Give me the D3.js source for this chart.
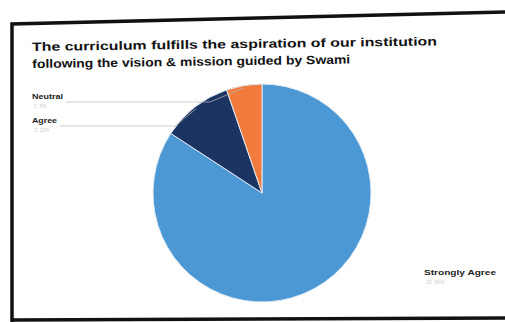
<!DOCTYPE html>
<html><head><meta charset="utf-8">
<script src="https://cdn.jsdelivr.net/npm/d3@7"></script>
<style>html,body{margin:0;padding:0;background:#fff;}svg{display:block;}</style>
</head><body>
<svg id="chart" width="505" height="322"></svg>
<script>
const categories = ["Strongly Agree", "Agree", "Neutral"];
const values = [16, 2, 1];
const colors = ["#4c98d4", "#1c3461", "#f17a3c"];
const titleLines = ["The curriculum fulfills the aspiration of our institution",
                    "following the vision & mission guided by Swami"];

const svg = d3.select("#chart");

// photographed frame
svg.append("path")
  .attr("d", "M12,322 L12,24 L505,12 M12,320 L505,318")
  .attr("fill", "none").attr("stroke", "#111").attr("stroke-width", 3.5);

// title
const title = svg.append("g").attr("transform", "rotate(-0.8 32 50)");
title.selectAll("text").data(titleLines).join("text")
  .attr("x", 32).attr("y", (d, i) => 51 + i * 17)
  .attr("font-family", "Liberation Sans, Arial, sans-serif")
  .attr("font-weight", "bold").attr("font-size", 12)
  .attr("fill", "#111")
  .attr("textLength", (d, i) => i === 0 ? 405 : 318)
  .attr("lengthAdjust", "spacingAndGlyphs")
  .text(d => d);

const cx = 262, cy = 193, r = 109;
const pie = d3.pie().sort(null).value(d => d);
const arcs = pie(values);
const arc = d3.arc().innerRadius(0).outerRadius(r);

const g = svg.append("g").attr("transform", `translate(${cx},${cy})`);
g.selectAll("path").data(arcs).join("path")
  .attr("d", arc)
  .attr("fill", (d, i) => colors[i])
  .attr("stroke", "#dfeaf5").attr("stroke-width", 1);

// labels
const total = d3.sum(values);
const labelPos = [
  {x: 424, y: 275, w: 72},
  {x: 32, y: 123, w: 25},
  {x: 32, y: 99, w: 31}
];
const ends = [null, [175, 118], [210, 97]];
categories.forEach((c, i) => {
  const p = labelPos[i];
  svg.append("text").attr("x", p.x).attr("y", p.y)
    .attr("font-family", "Liberation Sans, Arial, sans-serif")
    .attr("font-weight", "bold").attr("font-size", 7).attr("fill", "#222")
    .attr("textLength", p.w).attr("lengthAdjust", "spacingAndGlyphs")
    .text(c);
  svg.append("text").attr("x", p.x + 2).attr("y", p.y + 9)
    .attr("font-family", "Liberation Sans, Arial, sans-serif")
    .attr("font-size", 5).attr("fill", "#ccc")
    .text(values[i] + "; " + Math.round(values[i] / total * 100) + "%");
  if (ends[i]) {
    const mid = (arcs[i].startAngle + arcs[i].endAngle) / 2;
    const ex = cx + Math.sin(mid) * r * 0.98, ey = cy - Math.cos(mid) * r * 0.98;
    svg.append("path")
      .attr("d", `M${p.x + p.w + 3},${p.y + 3} L${ends[i][0]},${p.y + 3} L${ex},${ey}`)
      .attr("fill", "none").attr("stroke", "#bbb").attr("stroke-width", 0.7);
  }
});
</script>
</body></html>
